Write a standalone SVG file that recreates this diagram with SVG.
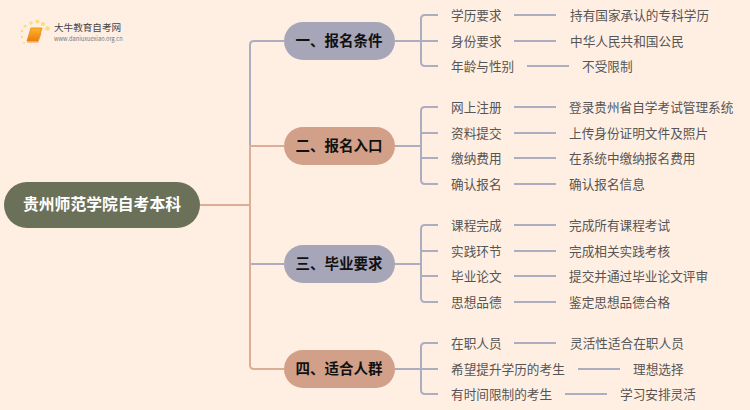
<svg xmlns="http://www.w3.org/2000/svg" width="750" height="410" viewBox="0 0 750 410">
<defs>
<linearGradient id="bk" x1="0" y1="0" x2="0" y2="1"><stop offset="0" stop-color="#fbb62a"/><stop offset="1" stop-color="#ee7d0c"/></linearGradient>
</defs>
<style>
text{font-family:"Noto Sans CJK SC","Liberation Sans",sans-serif}
.leaf{font-size:12.650px;fill:#555}
.l1{font-size:14.500px;font-weight:700;fill:#111;text-anchor:middle}
.root{font-size:15.800px;font-weight:700;fill:#fff;text-anchor:middle}
.p{stroke:#adadc2;stroke-width:2;fill:none}
.o{stroke:#dcae96;stroke-width:2;fill:none}
.d{fill:#fbdc84}
</style>
<rect width="750" height="410" fill="#ffefe3"/>
<g id="logo">
<circle class="d" cx="47.500" cy="28.500" r="2.300"/><circle class="d" cx="43" cy="24" r="2"/><circle class="d" cx="37.500" cy="21.500" r="2"/><circle class="d" cx="31" cy="23" r="1.800"/><circle class="d" cx="25" cy="26" r="1.500"/><circle class="d" cx="22" cy="31" r="1.300"/><circle class="d" cx="22" cy="37" r="1.200"/><circle class="d" cx="24" cy="43" r="1"/>
<path d="M31 28H42L38 41H27Z" fill="url(#bk)" stroke="#e8860f" stroke-width="0.800"/>
<path d="M27 42H38L41 33" fill="none" stroke="#f2954a" stroke-width="1"/>
<text x="54" y="31" font-size="9.600" fill="#444">大牛教育自考网</text>
<text x="54" y="41" font-size="5.700" fill="#777" font-family="Liberation Sans">www.daniuxuexiao.org.cn</text>
</g>
<g id="connectors">
<path class="p" d="M284 41H254Q250 41 250 45V146"/>
<path class="o" d="M200 205H250M284 146H250V365Q250 369 254 369H284"/>
<path class="p" d="M251 264H284"/>
<path class="p" d="M395 41H421M438 15H425Q421 15 421 19V62Q421 66 425 66H438M421 41H438"/>
<path class="p" d="M395 146H421M438 107H425Q421 107 421 111V180Q421 184 425 184H438M421 133H438M421 158H438"/>
<path class="p" d="M395 264H421M438 225H425Q421 225 421 229V298Q421 302 425 302H438M421 251H438M421 276H438"/>
<path class="p" d="M395 369H421M438 343H425Q421 343 421 347V390Q421 394 425 394H438M421 369H438"/>
<path class="p" d="M514 15H556M514 41H556M527 66H569M514 107H556M514 133H556M514 158H556M514 184H556M514 225H556M514 251H556M514 276H556M514 302H556M514 343H556M578 369H620M565 394H607" stroke-width="1.500"/>
</g>
<g id="root"><rect x="4" y="182" width="196" height="46" rx="23" fill="#6b7159"/><text class="root" x="102" y="210">贵州师范学院自考本科</text></g>
<g id="n1"><rect x="284" y="22" width="111" height="38" rx="19" fill="#a6a6b8"/><text class="l1" x="339" y="46">一、报名条件</text></g>
<g id="n2"><rect x="284" y="127" width="111" height="38" rx="19" fill="#d2a088"/><text class="l1" x="339" y="151">二、报名入口</text></g>
<g id="n3"><rect x="284" y="245" width="111" height="38" rx="19" fill="#a6a6b8"/><text class="l1" x="339" y="269">三、毕业要求</text></g>
<g id="n4"><rect x="284" y="350" width="111" height="38" rx="19" fill="#d2a088"/><text class="l1" x="339" y="374">四、适合人群</text></g>
<g id="leaves">
<text class="leaf" x="451" y="19.500">学历要求</text><text class="leaf" x="570" y="19.500">持有国家承认的专科学历</text>
<text class="leaf" x="451" y="45.500">身份要求</text><text class="leaf" x="570" y="45.500">中华人民共和国公民</text>
<text class="leaf" x="451" y="70.500">年龄与性别</text><text class="leaf" x="582" y="70.500">不受限制</text>
<text class="leaf" x="451" y="111.500">网上注册</text><text class="leaf" x="569" y="111.500">登录贵州省自学考试管理系统</text>
<text class="leaf" x="451" y="137.500">资料提交</text><text class="leaf" x="569" y="137.500">上传身份证明文件及照片</text>
<text class="leaf" x="451" y="162.500">缴纳费用</text><text class="leaf" x="569" y="162.500">在系统中缴纳报名费用</text>
<text class="leaf" x="451" y="188.500">确认报名</text><text class="leaf" x="569" y="188.500">确认报名信息</text>
<text class="leaf" x="451" y="229.500">课程完成</text><text class="leaf" x="569" y="229.500">完成所有课程考试</text>
<text class="leaf" x="451" y="255.500">实践环节</text><text class="leaf" x="569" y="255.500">完成相关实践考核</text>
<text class="leaf" x="451" y="280.500">毕业论文</text><text class="leaf" x="569" y="280.500">提交并通过毕业论文评审</text>
<text class="leaf" x="451" y="306.500">思想品德</text><text class="leaf" x="569" y="306.500">鉴定思想品德合格</text>
<text class="leaf" x="451" y="347.500">在职人员</text><text class="leaf" x="570" y="347.500">灵活性适合在职人员</text>
<text class="leaf" x="451" y="373.500">希望提升学历的考生</text><text class="leaf" x="633" y="373.500">理想选择</text>
<text class="leaf" x="451" y="398.500">有时间限制的考生</text><text class="leaf" x="620" y="398.500">学习安排灵活</text>
</g>
</svg>
